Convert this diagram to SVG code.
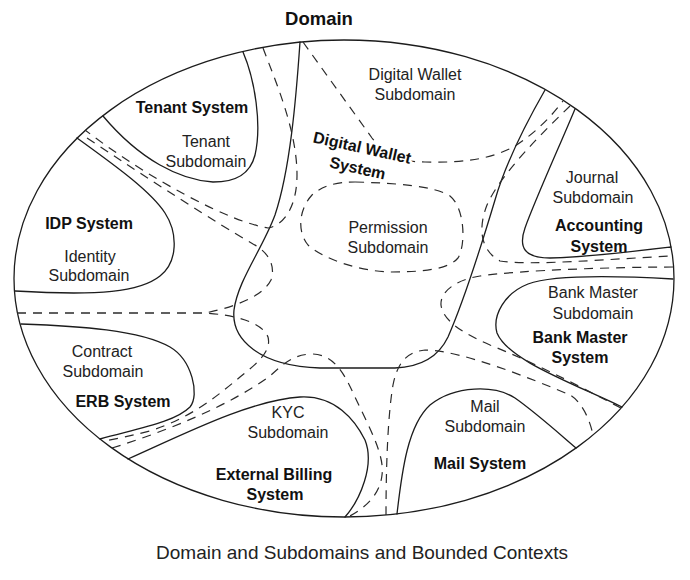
<svg xmlns="http://www.w3.org/2000/svg" width="690" height="580" viewBox="0 0 690 580">
<style>
.solid{fill:none;stroke:#1c1c1c;stroke-width:1.3;stroke-linejoin:round;stroke-linecap:round}
.dash{fill:none;stroke:#2a2a2a;stroke-width:1.2;stroke-dasharray:9 7}
.t{font-family:"Liberation Sans",Arial,Helvetica,sans-serif;font-size:16px;fill:#222;text-anchor:middle}
.b{font-weight:bold;fill:#111}
.halo{paint-order:stroke;stroke:#fff;stroke-width:5;stroke-linejoin:round}
</style>
<rect width="690" height="580" fill="#fff"/>

<g id="domain">
  <ellipse class="solid" cx="344" cy="278.5" rx="330" ry="238.5"/>
  <text class="t b" x="319" y="25" style="font-size:18.5px">Domain</text>
</g>

<g id="digital-wallet-system">
  <path class="solid" d="M300,42 C296,100 290,170 275,215 C262,250 238,280 234,310 C231,340 260,366 320,368 L395,368 C420,367 438,358 448,337 C462,305 480,250 495,200 C505,165 525,125 545,90"/>
</g>

<g id="digital-wallet-subdomain">
  <path class="dash" d="M303,42 L372,138 C385,155 400,162 425,162 C460,163 490,160 515,146 C535,133 550,118 563,101"/>
  <text class="t" x="415" y="80">Digital Wallet</text>
  <text class="t" x="415" y="100">Subdomain</text>
</g>

<g id="digital-wallet-system-label" transform="translate(361,153) rotate(12.5)">
  <text class="t b halo" x="0" y="0">Digital Wallet</text>
  <text class="t b halo" x="0" y="21">System</text>
</g>

<g id="permission-subdomain">
  <path class="dash" d="M355,182 C395,183 435,186 450,196 C465,208 466,245 458,258 C448,270 420,272 390,272 C360,271 325,260 308,245 C296,230 300,208 312,195 C322,186 335,182 355,182 Z"/>
  <text class="t" x="388" y="233">Permission</text>
  <text class="t" x="388" y="253">Subdomain</text>
</g>

<g id="tenant-system">
  <path class="solid" d="M243,52 C255,80 262,125 255,155 C250,175 235,182 213,182 C180,180 140,160 103,116"/>
  <text class="t b" x="192" y="113">Tenant System</text>
</g>
<g id="tenant-subdomain">
  <path class="dash" d="M263,48 C275,80 297,130 297,175 C297,205 285,225 268,228 C230,222 150,180 85,130"/>
  <text class="t" x="206" y="147">Tenant</text>
  <text class="t" x="206" y="167">Subdomain</text>
</g>

<g id="idp-system">
  <path class="solid" d="M77,138 C110,162 150,190 165,213 C178,233 178,262 160,276 C140,292 100,296 15,291"/>
  <text class="t b" x="89" y="229">IDP System</text>
</g>
<g id="identity-subdomain">
  <path class="dash" d="M17,313 L205,313 C230,308 262,298 271,280 C276,265 268,252 253,244 C215,222 150,180 81,134"/>
  <text class="t" x="90" y="262">Identity</text>
  <text class="t" x="89" y="281">Subdomain</text>
</g>

<g id="erb-system">
  <path class="solid" d="M21,324 C80,326 140,330 170,347 C192,360 200,395 190,407 C175,422 140,428 100,439"/>
  <text class="t b" x="123" y="407">ERB System</text>
</g>
<g id="contract-subdomain">
  <path class="dash" d="M17,313 L205,313 C235,315 262,322 268,337 C272,352 255,365 240,377 C215,398 190,418 150,431 C130,436 115,439 104,441"/>
  <text class="t" x="102" y="357">Contract</text>
  <text class="t" x="103" y="377">Subdomain</text>
</g>

<g id="external-billing-system">
  <path class="solid" d="M128,459 C180,436 250,400 300,397 C335,395 355,420 365,440 C375,465 360,500 345,517"/>
  <text class="t b" x="274" y="480">External Billing</text>
  <text class="t b" x="275" y="500">System</text>
</g>
<g id="kyc-subdomain">
  <path class="dash" d="M112,448 C170,430 230,405 270,376 C285,362 295,354 313,354 C335,355 345,375 355,397 C368,425 385,455 382,475 C380,495 365,508 348,517"/>
  <text class="t" x="288" y="418">KYC</text>
  <text class="t" x="288" y="438">Subdomain</text>
</g>

<g id="mail-system">
  <path class="solid" d="M397,514 C402,470 408,425 430,405 C455,385 495,385 515,398 C535,412 555,430 576,448"/>
  <text class="t b" x="480" y="469">Mail System</text>
</g>
<g id="mail-subdomain">
  <path class="dash" d="M386,515 C386,480 387,420 393,385 C397,365 405,352 425,350 C460,350 530,378 570,395 C582,402 590,420 593,435"/>
  <text class="t" x="485" y="412">Mail</text>
  <text class="t" x="485" y="432">Subdomain</text>
</g>

<g id="bank-master-system">
  <path class="solid" d="M673,279 C620,276 555,274 528,284 C505,293 492,315 497,333 C508,360 570,382 622,407"/>
  <text class="t b" x="580" y="343">Bank Master</text>
  <text class="t b" x="580" y="363">System</text>
</g>
<g id="bank-master-subdomain">
  <path class="dash" d="M673,267 C620,267 520,270 480,276 C455,280 440,292 441,305 C443,320 460,332 490,345 C540,365 590,392 621,408"/>
  <text class="t" x="593" y="298">Bank Master</text>
  <text class="t" x="593" y="319">Subdomain</text>
</g>

<g id="accounting-system">
  <path class="solid" d="M575,109 C560,145 535,200 525,228 C518,248 525,258 550,258 C590,257 630,252 671,247"/>
  <text class="t b" x="599" y="231">Accounting</text>
  <text class="t b" x="599" y="252">System</text>
</g>
<g id="journal-subdomain">
  <path class="dash" d="M570,106 C540,135 500,175 487,205 C478,228 480,250 500,261 C530,266 610,259 672,256"/>
  <text class="t" x="592" y="183">Journal</text>
  <text class="t" x="593" y="203">Subdomain</text>
</g>

<g id="connectors"></g>

<text class="t" x="362" y="559" style="font-size:19px">Domain and Subdomains and Bounded Contexts</text>
</svg>
